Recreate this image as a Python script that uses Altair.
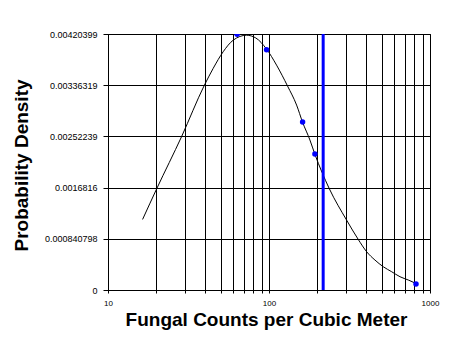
import altair as alt
import pandas as pd

# Fitted density curve
curve_x = [16.4, 20.1, 28.7, 39.5, 45.0, 51.9, 59.9, 72.5, 82.8, 96.6, 111.4, 130.4,
           148.4, 161.7, 179.5, 192.8, 236.6, 303.5, 358.3, 404.2, 455.0, 512.6,
           578.0, 651.1, 733.0, 814.9]
curve_y = [0.001159, 0.001667, 0.002524, 0.003352, 0.003639, 0.003912, 0.004102,
           0.004184, 0.004139, 0.003955, 0.003693, 0.003349, 0.003037, 0.002754,
           0.002464, 0.002229, 0.001667, 0.001147, 0.000831, 0.000628, 0.000492,
           0.000382, 0.000300, 0.000218, 0.000164, 0.000110]

# Observed points
pts_x = [63.4, 96.6, 161.7, 192.8, 818.6]
pts_y = [0.0042, 0.003945, 0.002758, 0.002234, 0.0000983]

# Vertical marker
marker_x = [217]

x_ticks = [10, 20, 30, 40, 50, 60, 70, 80, 90, 100, 200, 300, 400, 500, 600, 700,
           800, 900, 1000]
y_ticks = [0, 0.000840798, 0.0016816, 0.00252239, 0.00336319, 0.00420399]

curve_df = pd.DataFrame({"x": curve_x, "y": curve_y})
pts_df = pd.DataFrame({"x": pts_x, "y": pts_y})
mark_df = pd.DataFrame({"x": marker_x})

FONT = "Liberation Sans"

xscale = alt.Scale(type="log", domain=[10, 1000], nice=False)
yscale = alt.Scale(domain=[0, 0.00420399], nice=False, zero=False)

xaxis = alt.Axis(
    values=x_ticks,
    labelExpr="(datum.value == 10 || datum.value == 100 || datum.value == 1000) ? format(datum.value, 'd') : ''",
    grid=True, gridColor="black", gridOpacity=1, gridWidth=1,
    tickColor="black", tickSize=3, domainColor="black",
    labelFont=FONT, labelFontSize=8, labelColor="black", labelPadding=6,
    labelFlush=False, labelOverlap=False,
    title="Fungal Counts per Cubic Meter", titleFont=FONT, titleFontSize=19,
    titleFontWeight="bold", titleColor="black",
    titleBaseline="alphabetic", titleY=35, titleX=158,
)
yaxis = alt.Axis(
    values=y_ticks,
    labelExpr="format(datum.value, '.9~g')",
    grid=True, gridColor="black", gridOpacity=1, gridWidth=1,
    tickColor="black", tickSize=5, domainColor="black",
    labelFont=FONT, labelFontSize=9, labelColor="black", labelPadding=6,
    labelFlush=False, labelOverlap=False,
    title="Probability Density", titleFont=FONT, titleFontSize=19,
    titleFontWeight="bold", titleColor="black",
    titleBaseline="alphabetic", titleX=-81, titleY=131,
)

line = alt.Chart(curve_df).mark_line(color="black", strokeWidth=1, interpolate="monotone").encode(
    x=alt.X("x:Q", scale=xscale, axis=xaxis),
    y=alt.Y("y:Q", scale=yscale, axis=yaxis),
)

rule = alt.Chart(mark_df).mark_rule(color="#0000ff", strokeWidth=3).encode(
    x=alt.X("x:Q", scale=xscale),
)

points = alt.Chart(pts_df).mark_circle(color="#0000ff", size=30, opacity=1, clip=True).encode(
    x=alt.X("x:Q", scale=xscale),
    y=alt.Y("y:Q", scale=yscale),
)

chart = alt.layer(line, rule, points).properties(
    width=322, height=256,
    autosize=alt.AutoSizeParams(type="none"),
    padding={"left": 108, "top": 34, "right": 28, "bottom": 72},
    background="white",
).configure_view(stroke="black", strokeWidth=1)

chart.save("out.html", embed_options={"renderer": "svg", "actions": False})
